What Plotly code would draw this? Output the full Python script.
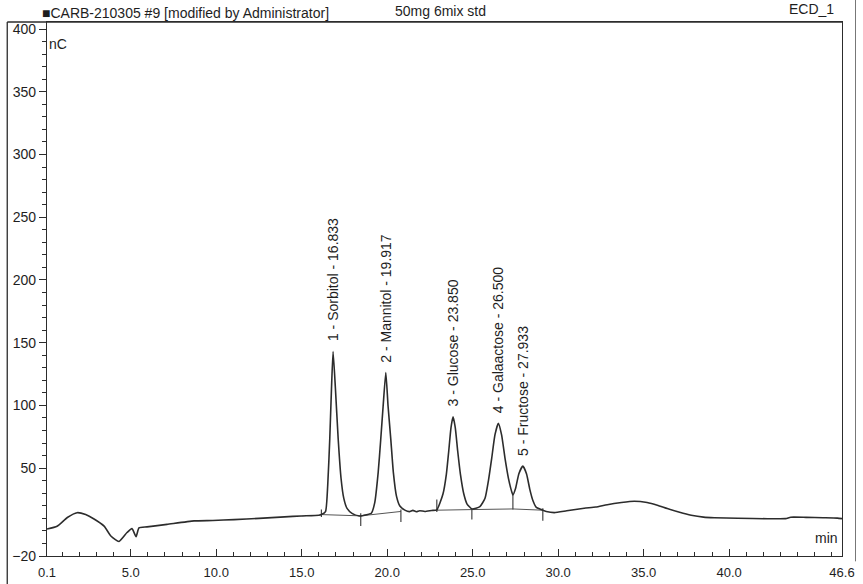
import plotly.graph_objects as go

# Chromatogram trace: retention time (min) and detector response (nC)
time_min = [
    0.1, 0.69, 1.29, 1.86, 2.36, 2.85, 3.44, 3.85, 4.31, 4.78, 5.07, 5.31, 5.48,
    5.95, 7.12, 8.7, 9.8, 11.04, 12.5, 14.0, 14.96, 16.0, 16.15,
    16.39, 16.52, 16.64, 16.74, 16.833, 16.97, 17.13, 17.30, 17.46, 17.65, 17.94,
    18.36, 18.6, 19.07, 19.27, 19.47, 19.62, 19.76, 19.917, 20.05, 20.21, 20.36,
    20.54, 20.74, 21.03, 21.3, 21.5, 21.7, 21.9, 22.2, 22.6, 22.9,
    23.26, 23.46, 23.60, 23.73, 23.85, 23.98, 24.12, 24.28, 24.48, 24.67, 24.96,
    25.42, 25.72, 25.91, 26.11, 26.30, 26.5, 26.69, 26.89, 27.09, 27.28, 27.35,
    27.51, 27.70, 27.933, 28.15, 28.34, 28.52, 28.72, 28.97, 29.3, 29.77,
    30.5, 31.52, 32.2, 32.87, 33.7, 34.45, 35.2, 35.8, 36.38, 37.1, 37.78, 38.5,
    39.13, 40.5, 42.23, 43.3, 43.6, 44.5, 45.5, 46.33, 46.6,
]
signal_nc = [
    1.5, 3.7, 10.7, 14.5, 13.0, 9.5, 3.8, -4.3, -8.4, -1.3, 1.8, -4.6, 2.4,
    3.2, 5.2, 8.0, 8.3, 9.0, 10.0, 11.2, 11.9, 12.5, 13.0,
    15.4, 36.6, 73.7, 113.5, 143.0, 113.5, 73.7, 41.8, 25.9, 17.9, 14.0,
    11.9, 12.3, 14.1, 22.5, 46.4, 72.8, 99.3, 126.3, 99.3, 72.8, 46.4,
    27.7, 19.8, 16.6, 15.4, 16.4, 15.3, 16.1, 15.5, 16.3, 16.8,
    29.4, 45.3, 63.9, 82.4, 90.9, 82.4, 63.9, 45.3, 29.4, 21.4, 17.5,
    19.4, 26.0, 39.3, 57.8, 76.5, 85.7, 76.5, 57.8, 41.9, 31.3, 28.7,
    34.0, 45.6, 51.6, 45.4, 33.1, 24.2, 18.7, 17.2, 15.5, 14.6,
    16.0, 18.0, 19.0, 20.9, 22.6, 23.6, 22.6, 20.5, 17.8, 14.8, 12.5, 11.0,
    10.5, 10.1, 9.7, 9.8, 10.9, 10.8, 10.5, 10.2, 9.8,
]

# Identified peaks
peak_names = ["Sorbitol", "Mannitol", "Glucose", "Galaactose", "Fructose"]
peak_times = [16.833, 19.917, 23.850, 26.500, 27.933]
peak_heights = [143.0, 126.3, 90.9, 85.7, 51.6]

# Integration boundaries, their baseline level and the delimiter marks
boundary_t = [16.15, 18.45, 20.8, 22.9, 24.95, 27.35, 29.1]
boundary_base = [13.0, 12.0, 15.5, 16.5, 17.0, 17.5, 16.5]
mark_lo = [11.0, 4.0, 7.0, 15.0, 9.0, 17.0, 8.0]
mark_hi = [17.0, 14.0, 17.0, 25.0, 18.0, 29.0, 18.0]
# pairs of boundary indices spanned by each peak's baseline
peak_spans = [(0, 1), (1, 2), (3, 4), (4, 5), (5, 6)]

x_tick_vals = [0.1, 5.0, 10.0, 15.0, 20.0, 25.0, 30.0, 35.0, 40.0, 46.6]
x_tick_text = ["0.1", "5.0", "10.0", "15.0", "20.0", "25.0", "30.0", "35.0", "40.0", "46.6"]
y_tick_vals = [-20, 50, 100, 150, 200, 250, 300, 350, 400]

INK = "#2c2c2c"
TEXT = "#1e1e1e"
FONT = "Arial, Liberation Sans, sans-serif"

fig = go.Figure()

# integration baselines
bx, by = [], []
for a, b in peak_spans:
    bx += [boundary_t[a], boundary_t[b], None]
    by += [boundary_base[a], boundary_base[b], None]
fig.add_trace(go.Scatter(x=bx, y=by, mode="lines",
                         line=dict(color="#555555", width=1), hoverinfo="skip"))

# boundary delimiter marks
mx, my = [], []
for t, lo, hi in zip(boundary_t, mark_lo, mark_hi):
    mx += [t, t, None]
    my += [lo, hi, None]
fig.add_trace(go.Scatter(x=mx, y=my, mode="lines",
                         line=dict(color="#444444", width=1.2), hoverinfo="skip"))

# detector signal
fig.add_trace(go.Scatter(x=time_min, y=signal_nc, mode="lines",
                         line=dict(color=INK, width=1.6, shape="spline", smoothing=0.5)))

# peak labels
for i, (name, t, h) in enumerate(zip(peak_names, peak_times, peak_heights), start=1):
    fig.add_annotation(x=t, y=h, xref="x", yref="y",
                       text=f"{i} - {name} - {t:.3f}", textangle=-90,
                       showarrow=False, xanchor="center", yanchor="bottom", yshift=8,
                       font=dict(family=FONT, size=14, color=TEXT))

# header texts
fig.add_annotation(x=-0.009, y=1.017, xref="paper", yref="paper", xanchor="left", yanchor="middle",
                   text="■CARB-210305 #9 [modified by Administrator]", showarrow=False,
                   font=dict(family=FONT, size=14, color=TEXT))
fig.add_annotation(x=0.435, y=1.021, xref="paper", yref="paper", xanchor="left", yanchor="middle",
                   text="50mg 6mix std", showarrow=False,
                   font=dict(family=FONT, size=14, color=TEXT))
fig.add_annotation(x=0.931, y=1.025, xref="paper", yref="paper", xanchor="left", yanchor="middle",
                   text="ECD_1", showarrow=False,
                   font=dict(family=FONT, size=14, color=TEXT))

# axis units
fig.add_annotation(x=0.0, y=388, xref="paper", yref="y", xanchor="left", yanchor="middle",
                   text="nC", showarrow=False, xshift=0,
                   font=dict(family=FONT, size=14, color=TEXT))
fig.add_annotation(x=1.0, y=-6, xref="paper", yref="y", xanchor="right", yanchor="middle",
                   text="min", showarrow=False, xshift=-2,
                   font=dict(family=FONT, size=14, color=TEXT))

# outer frame lines
fig.add_shape(type="line", xref="paper", yref="paper", x0=-0.05, x1=1.0, y0=1.0, y1=1.0,
              line=dict(color=INK, width=1.3))
fig.add_shape(type="line", xref="paper", yref="paper", x0=-0.05, x1=-0.05, y0=1.0, y1=-0.06,
              line=dict(color=INK, width=1.3))
fig.add_shape(type="line", xref="paper", yref="paper", x0=1.017, x1=1.017, y0=1.05, y1=-0.01,
              line=dict(color="#777777", width=1))

fig.update_xaxes(range=[0.1, 46.6], tickmode="array", tickvals=x_tick_vals, ticktext=x_tick_text,
                 ticks="inside", ticklen=7, tickwidth=1.2, tickcolor=INK,
                 minor=dict(tickmode="linear", tick0=0, dtick=1, ticks="inside", ticklen=4,
                            tickcolor=INK, showgrid=False),
                 showline=True, linecolor=INK, linewidth=1.4, mirror=True,
                 showgrid=False, zeroline=False, ticklabelstandoff=4, automargin=False,
                 tickfont=dict(family=FONT, size=13, color=TEXT))
fig.update_yaxes(range=[-20, 405.6], tickmode="array", tickvals=y_tick_vals,
                 ticks="outside", ticklen=7, tickwidth=1.2, tickcolor=INK,
                 minor=dict(tickmode="linear", tick0=0, dtick=10, ticks="outside", ticklen=4,
                            tickcolor=INK, showgrid=False),
                 showline=True, linecolor=INK, linewidth=1.4, mirror=True,
                 showgrid=False, zeroline=False, automargin=False,
                 tickfont=dict(family=FONT, size=14, color=TEXT))

fig.update_layout(width=863, height=584, autosize=False,
                  margin=dict(l=47, r=21, t=22, b=28),
                  paper_bgcolor="white", plot_bgcolor="white",
                  showlegend=False)

fig.write_html("out.html")
